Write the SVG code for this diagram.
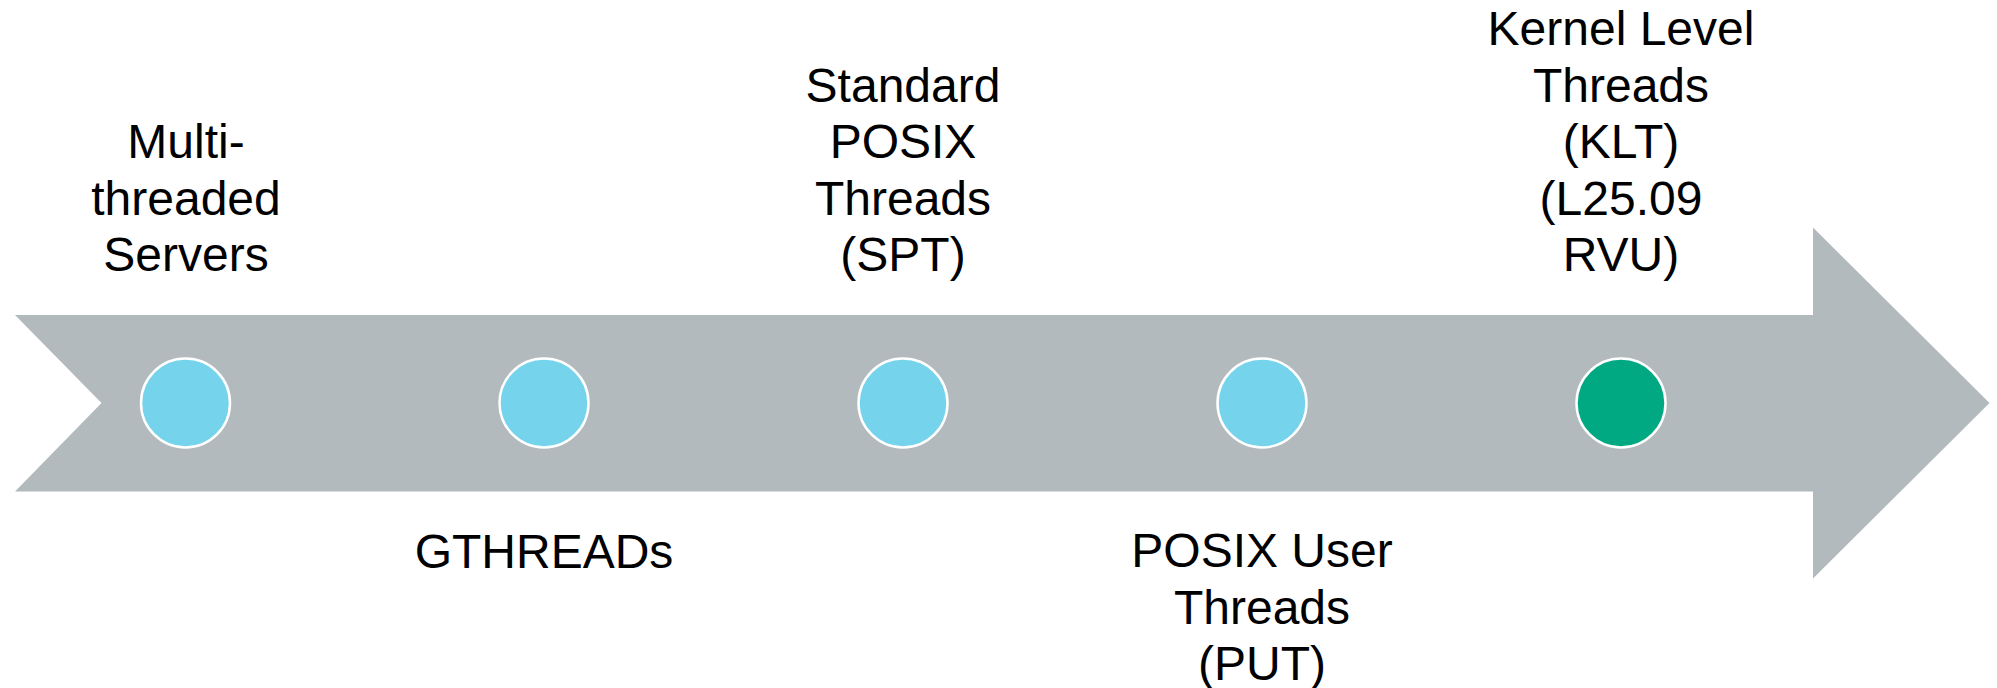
<svg xmlns="http://www.w3.org/2000/svg" width="1997" height="688" viewBox="0 0 1997 688">
<style>
.lbl{font-family:"Liberation Sans",Arial,sans-serif;font-size:48px;fill:#000;text-anchor:middle}
.dot{stroke:#fff;stroke-width:2.5}
.blue{fill:#75D3EC}
.green{fill:#01A982}
</style>
<rect width="1997" height="688" fill="#fff"/>
<g id="connectors">
<polygon id="timeline-arrow" points="15,315 1813,315 1813,227.5 1989.5,403 1813,578.5 1813,491.5 15,491.5 101.5,403" fill="#B3BABE"/>
</g>
<g id="node-mts">
<circle class="dot blue" cx="185.5" cy="403" r="44.5"/>
<text class="lbl" x="186"><tspan x="186" y="158">Multi-</tspan><tspan x="186" y="214.5">threaded</tspan><tspan x="186" y="271">Servers</tspan></text>
</g>
<g id="node-gthreads">
<circle class="dot blue" cx="544" cy="403" r="44.5"/>
<text class="lbl" x="544" y="568">GTHREADs</text>
</g>
<g id="node-spt">
<circle class="dot blue" cx="903" cy="403" r="44.5"/>
<text class="lbl"><tspan x="903" y="101.5">Standard</tspan><tspan x="903" y="158">POSIX</tspan><tspan x="903" y="214.5">Threads</tspan><tspan x="903" y="271">(SPT)</tspan></text>
</g>
<g id="node-put">
<circle class="dot blue" cx="1262" cy="403" r="44.5"/>
<text class="lbl"><tspan x="1262" y="567">POSIX User</tspan><tspan x="1262" y="623.5">Threads</tspan><tspan x="1262" y="680">(PUT)</tspan></text>
</g>
<g id="node-klt">
<circle class="dot green" cx="1621" cy="403" r="44.5"/>
<text class="lbl"><tspan x="1621" y="45">Kernel Level</tspan><tspan x="1621" y="101.5">Threads</tspan><tspan x="1621" y="158">(KLT)</tspan><tspan x="1621" y="214.5">(L25.09</tspan><tspan x="1621" y="271">RVU)</tspan></text>
</g>
</svg>
